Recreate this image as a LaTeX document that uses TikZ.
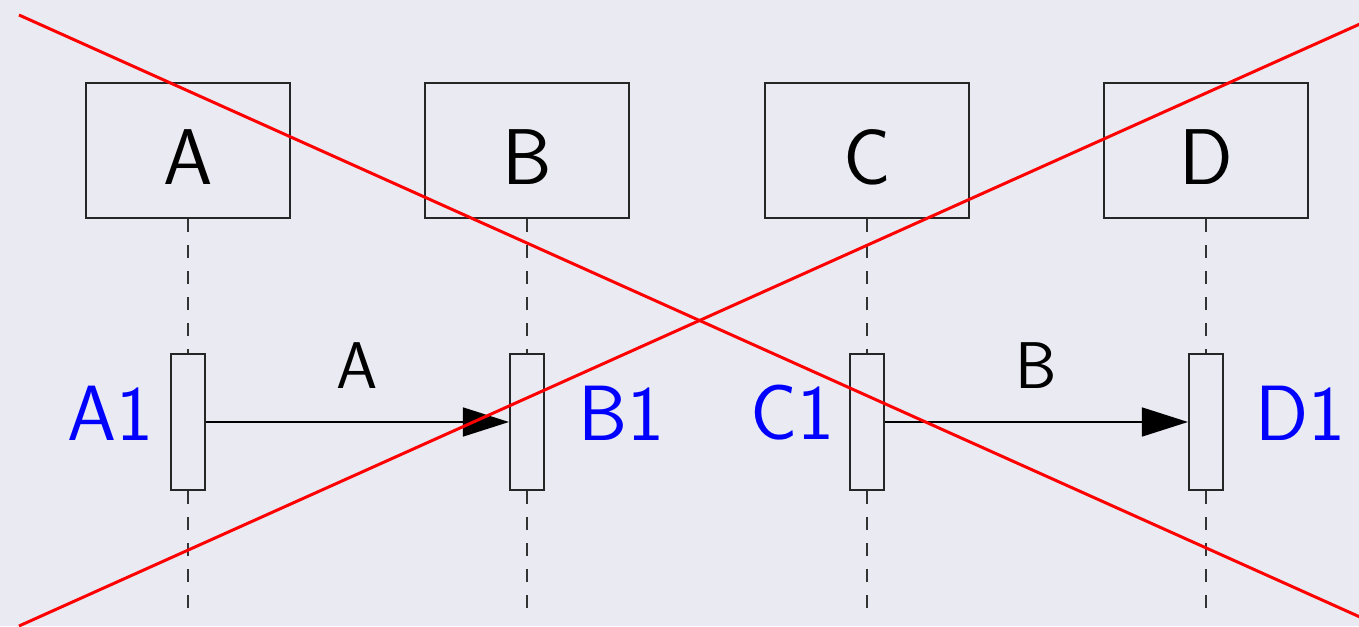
\documentclass[tikz,border=0pt]{standalone}
\usepackage{fontspec}
\usetikzlibrary{arrows.meta,positioning}
\definecolor{Backdrop}{HTML}{EAEAF2}
\definecolor{Lifeline}{HTML}{333333}

\begin{document}
\begin{tikzpicture}[font=\sffamily,
  actor/.style={draw=black!85,line width=.6pt,minimum width=2.04cm,minimum height=1.35cm,inner sep=0pt,text height=19.6pt,text depth=0pt,font=\sffamily\fontsize{22.5}{27}\selectfont},
  bar/.style={draw=black!85,line width=.6pt,minimum width=.34cm,minimum height=1.36cm,inner sep=0pt},
  life/.style={Lifeline,line width=.6pt,dash pattern=on .13cm off .13cm},
  msg/.style={-{Triangle[length=.46cm,width=.29cm]},line width=.45pt},
  tag/.style={blue,inner sep=0pt,font=\sffamily\fontsize{22.3}{27}\selectfont},
  lab/.style={inner sep=0pt,font=\sffamily\fontsize{18.8}{23}\selectfont},
  cross/.style={red,line width=.85pt}]
\useasboundingbox (0,0) rectangle (13.59,6.26);
\fill[Backdrop] (0,0) rectangle (13.59,6.26);
\clip (0,0) rectangle (13.59,6.26);
% actors, activation bars and lifelines
\foreach \n/\x in {A/1.88,B/5.27,C/8.67,D/12.06}{
  \node[actor] (\n) at (\x,4.755) {\n};
  \node[bar] (bar\n) at (\x,2.04) {};
  \coordinate (end\n) at (\x,.14);
  \draw[life] (\n.south) -- (bar\n.north);
  \draw[life] (bar\n.south) -- (end\n);
}
\node[tag,left=.16cm of barA,yshift=.09cm] (tagA) {A1};
\node[tag,right=.33cm of barB,yshift=.09cm] (tagB) {B1};
\node[tag,left=.14cm of barC,yshift=.09cm] (tagC) {C1};
\node[tag,right=.31cm of barD,yshift=.09cm] (tagD) {D1};
% messages
\draw[msg] (barA.east) -- (barB.west) node[lab,midway,above=.33cm] (msgA) {A};
\draw[msg] (barC.east) -- (barD.west) node[lab,midway,above=.33cm] (msgB) {B};
% crossed out
\coordinate (crossNW) at (.19,6.11);
\coordinate (crossSE) at (13.80,0);
\coordinate (crossSW) at (.19,0);
\coordinate (crossNE) at (13.80,6.11);
\draw[cross] (crossNW) -- (crossSE);
\draw[cross] (crossSW) -- (crossNE);
\end{tikzpicture}
\end{document}
